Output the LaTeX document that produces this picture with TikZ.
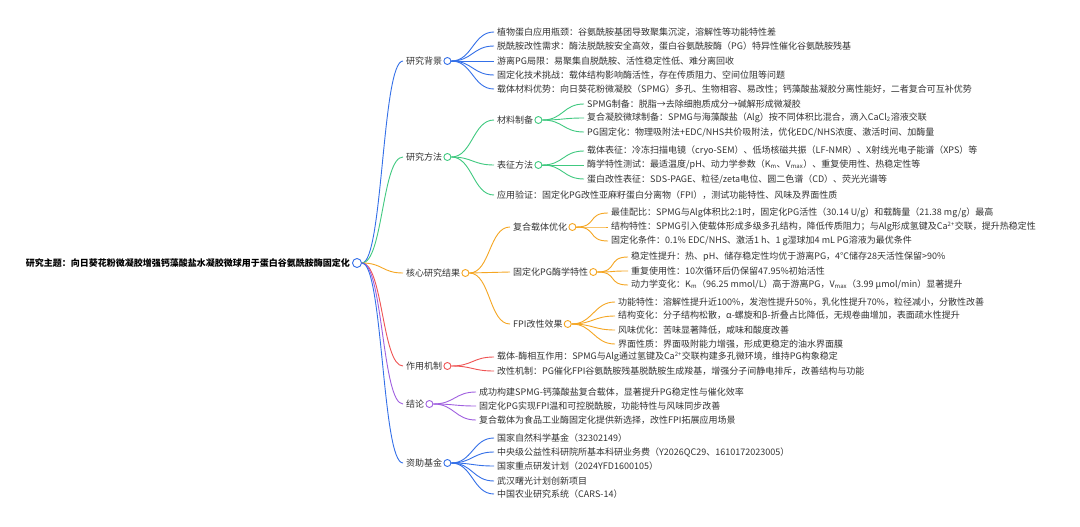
\documentclass[tikz,border=0pt]{standalone}
\usepackage{fontspec}
\setmainfont{Noto Sans CJK SC}
\definecolor{cBlue}{RGB}{52,112,232}
\definecolor{cGreen}{RGB}{64,201,128}
\definecolor{cOrange}{RGB}{245,166,35}
\definecolor{cRed}{RGB}{240,84,84}
\definecolor{cPurple}{RGB}{160,96,224}
\definecolor{txtc}{RGB}{51,51,51}
\tikzset{
  txt/.style={anchor=west, inner xsep=3pt, inner ysep=1pt, text=txtc, font=\fontsize{9}{10}\selectfont},
  dot/.style={circle, draw, fill=white, minimum size=7pt, inner sep=0pt, line width=0.9pt},
  lnk/.style={line width=0.9pt},
}
\newcommand{\lk}[3]{\draw[lnk,#1] (#2.east) .. controls +(21,0) and +(-21,0) .. (#3.west);}
\begin{document}
\begin{tikzpicture}[x=1pt,y=-1pt]
\useasboundingbox[fill=white] (0,0) rectangle (1080,527);
% root
\node[txt, anchor=east, text=black, font=\fontsize{9}{10}\selectfont\bfseries] (root) at (353,263) {研究主题：向日葵花粉微凝胶增强钙藻酸盐水凝胶微球用于蛋白谷氨酰胺酶固定化};
\node[dot, draw=cBlue, minimum size=9pt] (rc) at (357,263) {};
% level 1
\node[txt] (bg) at (403,61) {研究背景};
\node[txt] (me) at (403,157) {研究方法};
\node[txt] (re) at (403,273) {核心研究结果};
\node[txt] (mc) at (403,366) {作用机制};
\node[txt] (co) at (403,404) {结论};
\node[txt] (fu) at (403,463) {资助基金};
\node[dot, draw=cBlue] (bgc) at ([xshift=2pt]bg.east) {};
\node[dot, draw=cGreen] (mec) at ([xshift=2pt]me.east) {};
\node[dot, draw=cOrange] (rec) at ([xshift=2pt]re.east) {};
\node[dot, draw=cRed] (mcc) at ([xshift=2pt]mc.east) {};
\node[dot, draw=cPurple] (coc) at ([xshift=2pt]co.east) {};
\node[dot, draw=cBlue] (fuc) at ([xshift=2pt]fu.east) {};
\lk{cBlue}{rc}{bg}
\lk{cGreen}{rc}{me}
\lk{cOrange}{rc}{re}
\lk{cRed}{rc}{mc}
\lk{cPurple}{rc}{co}
\lk{cBlue}{rc}{fu}
% background
\node[txt] (bg1) at (494,32) {植物蛋白应用瓶颈：谷氨酰胺基团导致聚集沉淀，溶解性等功能特性差};
\node[txt] (bg2) at (494,46) {脱酰胺改性需求：酶法脱酰胺安全高效，蛋白谷氨酰胺酶（PG）特异性催化谷氨酰胺残基};
\node[txt] (bg3) at (494,61) {游离PG局限：易聚集自脱酰胺、活性稳定性低、难分离回收};
\node[txt] (bg4) at (494,75) {固定化技术挑战：载体结构影响酶活性，存在传质阻力、空间位阻等问题};
\node[txt] (bg5) at (494,89) {载体材料优势：向日葵花粉微凝胶（SPMG）多孔、生物相容、易改性；钙藻酸盐凝胶分离性能好，二者复合可互补优势};
\foreach \n in {bg1,bg2,bg3,bg4,bg5}{\lk{cBlue}{bgc}{\n}}
% methods
\node[txt] (m1) at (494,120) {材料制备};
\node[txt] (m2) at (494,165) {表征方法};
\node[txt] (m3) at (494,195) {应用验证：固定化PG改性亚麻籽蛋白分离物（FPI），测试功能特性、风味及界面性质};
\node[dot, draw=cGreen] (m1c) at ([xshift=2pt]m1.east) {};
\node[dot, draw=cGreen] (m2c) at ([xshift=2pt]m2.east) {};
\foreach \n in {m1,m2,m3}{\lk{cGreen}{mec}{\n}}
\node[txt] (m11) at (584,104) {SPMG制备：脱脂→去除细胞质成分→碱解形成微凝胶};
\node[txt] (m12) at (584,118) {复合凝胶微球制备：SPMG与海藻酸盐（Alg）按不同体积比混合，滴入CaCl\textsubscript{2}溶液交联};
\node[txt] (m13) at (584,132) {PG固定化：物理吸附法+EDC/NHS共价吸附法，优化EDC/NHS浓度、激活时间、加酶量};
\foreach \n in {m11,m12,m13}{\lk{cGreen}{m1c}{\n}}
\node[txt] (m21) at (584,151) {载体表征：冷冻扫描电镜（cryo-SEM）、低场核磁共振（LF-NMR）、X射线光电子能谱（XPS）等};
\node[txt] (m22) at (584,165) {酶学特性测试：最适温度/pH、动力学参数（K\textsubscript{m}、V\textsubscript{max}）、重复使用性、热稳定性等};
\node[txt] (m23) at (584,179) {蛋白改性表征：SDS-PAGE、粒径/zeta电位、圆二色谱（CD）、荧光光谱等};
\foreach \n in {m21,m22,m23}{\lk{cGreen}{m2c}{\n}}
% results
\node[txt] (r1) at (510,227) {复合载体优化};
\node[txt] (r2) at (510,272) {固定化PG酶学特性};
\node[txt] (r3) at (510,324) {FPI改性效果};
\node[dot, draw=cOrange] (r1c) at ([xshift=2pt]r1.east) {};
\node[dot, draw=cOrange] (r2c) at ([xshift=2pt]r2.east) {};
\node[dot, draw=cOrange] (r3c) at ([xshift=2pt]r3.east) {};
\foreach \n in {r1,r2,r3}{\lk{cOrange}{rec}{\n}}
\node[txt] (r11) at (608,213) {最佳配比：SPMG与Alg体积比2:1时，固定化PG活性（30.14 U/g）和载酶量（21.38 mg/g）最高};
\node[txt] (r12) at (608,227) {结构特性：SPMG引入使载体形成多级多孔结构，降低传质阻力；与Alg形成氢键及Ca\textsuperscript{2+}交联，提升热稳定性};
\node[txt] (r13) at (608,241) {固定化条件：0.1\% EDC/NHS、激活1 h、1 g湿球加4 mL PG溶液为最优条件};
\foreach \n in {r11,r12,r13}{\lk{cOrange}{r1c}{\n}}
\node[txt] (r21) at (628,257) {稳定性提升：热、pH、储存稳定性均优于游离PG，4℃储存28天活性保留>90\%};
\node[txt] (r22) at (628,271) {重复使用性：10次循环后仍保留47.95\%初始活性};
\node[txt] (r23) at (628,285) {动力学变化：K\textsubscript{m}（96.25 mmol/L）高于游离PG，V\textsubscript{max}（3.99 μmol/min）显著提升};
\foreach \n in {r21,r22,r23}{\lk{cOrange}{r2c}{\n}}
\node[txt] (r31) at (615,302) {功能特性：溶解性提升近100\%，发泡性提升50\%，乳化性提升70\%，粒径减小，分散性改善};
\node[txt] (r32) at (615,316) {结构变化：分子结构松散，α-螺旋和β-折叠占比降低，无规卷曲增加，表面疏水性提升};
\node[txt] (r33) at (615,330) {风味优化：苦味显著降低，咸味和酸度改善};
\node[txt] (r34) at (615,344) {界面性质：界面吸附能力增强，形成更稳定的油水界面膜};
\foreach \n in {r31,r32,r33,r34}{\lk{cOrange}{r3c}{\n}}
% mechanism
\node[txt] (k1) at (494,357) {载体-酶相互作用：SPMG与Alg通过氢键及Ca\textsuperscript{2+}交联构建多孔微环境，维持PG构象稳定};
\node[txt] (k2) at (494,371) {改性机制：PG催化FPI谷氨酰胺残基脱酰胺生成羧基，增强分子间静电排斥，改善结构与功能};
\foreach \n in {k1,k2}{\lk{cRed}{mcc}{\n}}
% conclusion
\node[txt] (c1) at (476,392) {成功构建SPMG-钙藻酸盐复合载体，显著提升PG稳定性与催化效率};
\node[txt] (c2) at (476,406) {固定化PG实现FPI温和可控脱酰胺，功能特性与风味同步改善};
\node[txt] (c3) at (476,420) {复合载体为食品工业酶固定化提供新选择，改性FPI拓展应用场景};
\foreach \n in {c1,c2,c3}{\lk{cPurple}{coc}{\n}}
% funding
\node[txt] (f1) at (494,438) {国家自然科学基金（32302149）};
\node[txt] (f2) at (494,452) {中央级公益性科研院所基本科研业务费（Y2026QC29、1610172023005）};
\node[txt] (f3) at (494,466) {国家重点研发计划（2024YFD1600105）};
\node[txt] (f4) at (494,481) {武汉曙光计划创新项目};
\node[txt] (f5) at (494,494) {中国农业研究系统（CARS-14）};
\foreach \n in {f1,f2,f3,f4,f5}{\lk{cBlue}{fuc}{\n}}
\end{tikzpicture}
\end{document}
